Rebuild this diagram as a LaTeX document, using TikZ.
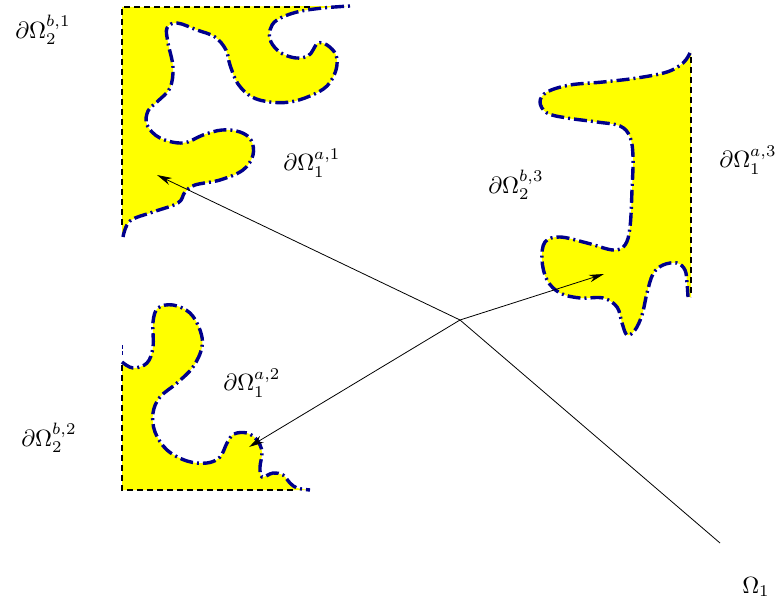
\documentclass[tikz,border=0pt]{standalone}
\usetikzlibrary{arrows.meta}
\begin{document}
\begin{tikzpicture}[x=1pt,y=-1pt,
  bnd/.style={draw={rgb,255:red,0;green,0;blue,140},line width=3.4pt,dash pattern=on 13pt off 4pt on 2pt off 4pt},
  edge/.style={draw=black,line width=1.2pt,dash pattern=on 6pt off 4pt},
  reg/.style={fill={rgb,255:red,255;green,255;blue,0}},
  conn/.style={draw=black,line width=0.8pt},
  arr/.style={conn,-{Stealth[length=15pt,width=7.5pt]}},
  lab/.style={scale=2.35,inner sep=0pt}]
\useasboundingbox (0,0) rectangle (778,604);
% region 1
\def\curveA{(123,237) (130,221) (153,212) (178,203) (185,192) (195,185) (220,180) (243,170) (253,155) (251,140) (240,132) (222,130) (203,135) (183,143) (160,138) (147,125) (148,111) (158,101) (170,88) (173,67) (168,43) (167,28) (177,23) (197,30) (215,37) (226,50) (230,65) (238,84) (252,97) (270,102) (290,102) (310,96) (327,86) (336,70) (336,55) (327,45) (318,43) (313,50) (308,56) (296,58) (281,53) (271,42) (270,30) (277,20) (297,12) (323,8) (350,6)}
\path[reg] (122,7) -- (122,233) -- plot[smooth,tension=0.6] coordinates {\curveA} -- cycle;
\draw[edge] (310,7) -- (122,7) -- (122,228);
\draw[bnd] plot[smooth,tension=0.6] coordinates {\curveA};
% region 3
\def\curveC{(690,53) (683,63) (667,72) (637,78) (603,82) (570,85) (547,92) (540,102) (547,113) (567,118) (597,122) (620,126) (630,137) (633,157) (632,190) (630,227) (625,245) (613,250) (587,243) (560,237) (545,242) (542,260) (547,280) (560,293) (580,298) (603,298) (617,307) (622,323) (627,335) (635,330) (642,315) (647,293) (653,274) (663,265) (677,263) (685,270) (687,283) (688,297)}
\path[reg] plot[smooth,tension=0.6] coordinates {\curveC} -- (691,297) -- (691,53) -- cycle;
\draw[edge] (691,57) -- (691,297);
\draw[bnd] plot[smooth,tension=0.6] coordinates {\curveC};
% region 2
\def\curveB{(122,362) (133,368) (147,363) (153,347) (153,322) (158,308) (173,305) (190,313) (200,330) (202,347) (193,367) (177,383) (160,397) (153,413) (155,432) (167,450) (187,461) (207,463) (220,457) (227,443) (234,434) (247,433) (257,440) (262,452) (260,467) (262,477) (273,473) (283,475) (290,483) (297,488) (310,490)}
\path[reg] plot[smooth,tension=0.6] coordinates {\curveB} -- (122,490) -- cycle;
\draw[edge] (122,365) -- (122,490) -- (294,490);
\draw[bnd] plot[smooth,tension=0.6] coordinates {\curveB};
\draw[bnd,line width=1pt,dash pattern=on 4pt off 2pt] (122,345) -- (122,356);
% connectors
\coordinate (c) at (460,320);
\coordinate (t1) at (157,175);
\coordinate (t2) at (249,447);
\coordinate (t3) at (604,274);
\coordinate (e) at (720,543);
\draw[arr] (c) -- (t1);
\draw[arr] (c) -- (t2);
\draw[arr] (c) -- (t3);
\draw[conn] (c) -- (e);
% labels
\node[lab] (l1) at (43,30) {$\partial\Omega_2^{b,1}$};
\node[lab] (l2) at (312,163) {$\partial\Omega_1^{a,1}$};
\node[lab] (l3) at (516,185) {$\partial\Omega_2^{b,3}$};
\node[lab] (l4) at (748,160) {$\partial\Omega_1^{a,3}$};
\node[lab] (l5) at (252,383) {$\partial\Omega_1^{a,2}$};
\node[lab] (l6) at (49,438) {$\partial\Omega_2^{b,2}$};
\node[lab] (l7) at (756,587) {$\Omega_1$};
\end{tikzpicture}
\end{document}
